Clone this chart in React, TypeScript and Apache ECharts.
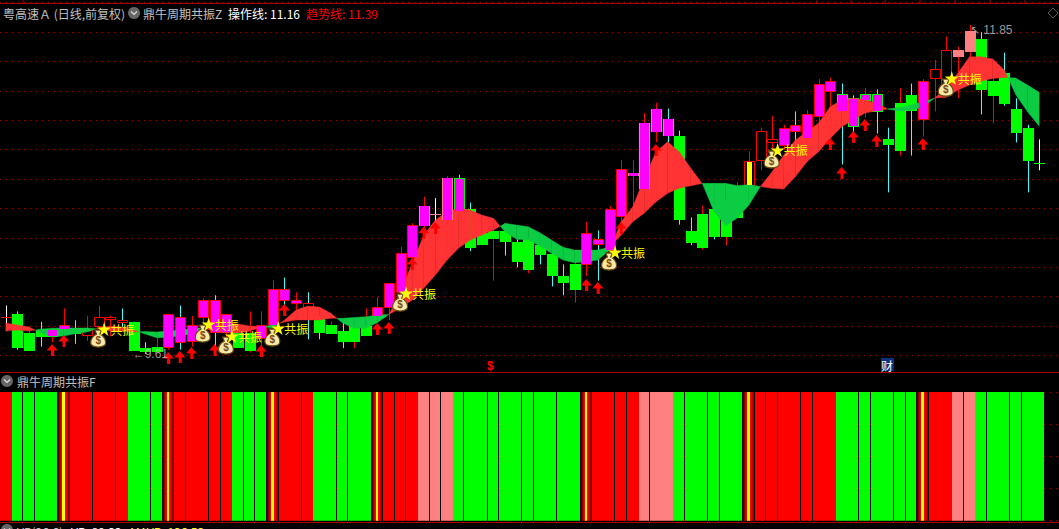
import React, { useEffect, useRef } from "react";
import * as echarts from "echarts";

const opens = [9.86,9.88,9.75,9.77,9.78,9.78,9.78,9.74,9.80,9.85,9.83,9.83,9.65,9.66,9.66,9.69,9.70,9.86,9.76,9.76,9.75,9.75,9.72,9.81,9.98,9.96,9.93,9.86,9.81,9.77,9.80,9.80,9.87,9.93,10.03,10.27,10.49,10.56,10.53,10.81,10.60,10.43,10.45,10.45,10.37,10.39,10.35,10.29,10.14,10.22,10.22,10.36,10.32,10.55,10.83,10.74,11.13,11.10,11.09,10.45,10.56,10.60,10.66,10.73,10.76,10.93,11.05,11.03,11.13,11.08,11.23,11.40,11.38,11.35,11.38,11.38,11.07,11.32,11.37,11.21,11.49,11.44,11.64,11.67,11.75,11.47,11.52,11.28,11.15,10.91];
const closes = [9.86,9.66,9.64,9.73,9.73,9.81,9.75,9.78,9.86,9.86,9.84,9.64,9.63,9.63,9.88,9.86,9.81,9.98,9.98,9.88,9.66,9.64,9.81,10.05,10.05,9.98,9.96,9.76,9.75,9.70,9.70,9.74,9.93,10.09,10.30,10.49,10.62,10.56,10.81,10.58,10.34,10.36,10.40,10.38,10.24,10.19,10.29,10.15,10.10,10.05,10.43,10.39,10.60,10.87,10.84,11.18,11.28,11.21,10.53,10.37,10.34,10.41,10.41,10.54,10.92,11.13,11.07,11.15,11.17,11.24,11.45,11.47,11.26,11.16,11.34,11.26,11.04,11.00,11.27,11.47,11.55,11.68,11.68,11.81,11.41,11.37,11.32,11.12,10.93,10.91];
const lows = [9.77,9.64,9.64,9.66,9.69,9.67,9.68,9.70,9.73,9.73,9.79,9.63,9.61,9.62,9.64,9.64,9.66,9.80,9.64,9.62,9.66,9.62,9.65,9.76,9.94,9.86,9.71,9.71,9.75,9.65,9.65,9.74,9.84,9.84,9.98,10.24,10.45,10.50,10.51,10.56,10.31,10.35,10.11,10.28,10.20,10.16,10.22,10.07,10.01,9.96,10.14,10.11,10.28,10.51,10.61,10.73,11.05,11.05,10.49,10.35,10.32,10.39,10.35,10.54,10.73,10.86,11.00,11.00,11.00,11.05,11.17,11.10,10.90,11.12,11.22,11.11,10.71,10.96,10.96,11.09,11.26,11.41,11.35,11.63,11.24,11.18,11.30,11.05,10.71,10.86];
const highs = [9.94,9.90,9.77,9.83,9.79,9.92,9.84,9.87,9.94,9.87,9.92,9.83,9.69,9.73,9.88,9.94,9.87,9.99,10.01,9.88,9.81,9.90,9.90,10.11,10.13,10.03,10.03,9.87,9.83,9.83,9.80,9.92,10.00,10.09,10.34,10.50,10.68,10.67,10.82,10.83,10.64,10.49,10.47,10.49,10.39,10.40,10.35,10.30,10.22,10.24,10.51,10.45,10.62,10.93,10.93,11.25,11.32,11.28,11.13,10.54,10.62,10.62,10.69,10.78,10.99,11.15,11.23,11.17,11.26,11.27,11.48,11.49,11.45,11.37,11.42,11.41,11.15,11.42,11.45,11.48,11.61,11.77,11.70,11.85,11.80,11.51,11.66,11.35,11.17,11.07];
const wickCodes = ["w","c","r","c","r","r","c","r","r","r","c","c","c","r","r","c","r","r","c","r","c","r","r","r","c","r","c","c","r","c","r","r","r","r","r","r","r","w","r","c","c","c","r","c","c","r","c","c","c","r","r","c","r","r","r","r","r","c","c","c","r","c","r","r","r","r","r","r","c","r","r","r","c","c","r","c","c","r","c","r","r","r","r","r","c","r","c","c","c","w"];
const overlayCodes = ["","","","","m","m","","","","","","","","","m","m","m","m","m","m","","","m","m","m","m","","","","","","","m","m","m","m","pm","p","pm","m","","","","","","","","","","","m","m","m","m","pm","pm","pm","pm","","","","","","","y","","","m","m","m","m","m","m","m","m","m","","","","m","","","p","p","","","","","","g"];

const operationLine = [9.821,9.807,9.794,9.753,9.729,9.732,9.749,9.760,9.787,9.800,9.794,9.773,9.746,9.721,9.725,9.732,9.746,9.783,9.807,9.821,9.814,9.800,9.797,9.787,9.841,9.909,9.936,9.930,9.887,9.821,9.785,9.785,9.823,9.880,10.034,10.229,10.419,10.521,10.578,10.603,10.589,10.555,10.533,10.442,10.390,10.385,10.345,10.295,10.249,10.231,10.238,10.249,10.317,10.510,10.612,10.807,10.986,11.054,10.986,10.873,10.768,10.578,10.481,10.535,10.623,10.750,10.850,10.964,11.066,11.122,11.181,11.292,11.338,11.351,11.338,11.317,11.275,11.263,11.270,11.290,11.352,11.419,11.521,11.632,11.632,11.617,11.542,11.372,11.258,11.16];
const trendLine = [9.766,9.773,9.766,9.780,9.785,9.787,9.787,9.787,9.780,9.766,9.766,9.760,9.763,9.760,9.766,9.773,9.780,9.790,9.760,9.753,9.753,9.766,9.794,9.807,9.828,9.841,9.841,9.841,9.853,9.853,9.859,9.864,9.875,9.879,9.923,9.977,10.059,10.147,10.249,10.331,10.385,10.419,10.453,10.499,10.487,10.476,10.435,10.385,10.336,10.317,10.317,10.317,10.338,10.419,10.510,10.569,10.646,10.703,10.737,10.755,10.771,10.771,10.771,10.755,10.764,10.749,10.737,10.732,10.816,10.918,10.986,11.077,11.156,11.202,11.249,11.265,11.278,11.285,11.304,11.326,11.351,11.356,11.406,11.440,11.467,11.485,11.492,11.487,11.440,11.39];

const arrowIndex = [4,5,14,15,16,18,22,24,32,33,35,36,37,50,51,53,56,71,72,73,74,75,79];
const arrowPrice = [9.678,9.739,9.623,9.630,9.657,9.678,9.671,9.950,9.821,9.828,10.263,10.476,10.508,10.120,10.100,10.508,11.038,11.079,10.882,11.127,11.208,11.100,11.079];

const signalIndex = [8,17,19,23,34,52,66,81];
const signalPrice = [9.780,9.814,9.732,9.787,10.025,10.304,10.998,11.487];
const signalLabel = "共振";

const cellKinds = ["R","G","G","G","S","R","R","R","G","G","S","R","R","R","R","G","G","G","S","R","R","G","G","G","S","R","R","R","P","P","P","G","G","G","G","G","G","G","S","R","R","R","P","P","G","G","G","G","S","R","R","R","R","R","G","G","G","G","G","S","R","P","P","G","G","G","G"];
const cellSpans = [1,1,1,2,1,2,2,1,2,1,1,1,2,1,1,1,1,1,1,2,1,2,1,2,1,1,1,1,1,1,1,1,2,1,2,1,2,2,1,2,1,1,1,2,1,2,1,2,1,1,1,2,1,2,2,1,2,1,1,1,2,1,1,1,2,1,2];
const lowPrice = 9.61;
const highPrice = 11.85;
const operationValue = "11.16";
const trendValue = "11.39";
const vrValue = "89.33";
const mavrValue = "136.53";

const TOTAL_UNITS = 1059 / 11.611;
const RED = "#ff0000";
const CYAN = "#40ffff";
const GREEN = "#00ff00";
const MAGENTA = "#ff00ff";
const PINK = "#ff8080";
const LINE = "#aa0000";
const FONT = '"Noto Sans CJK SC", sans-serif';
const LATIN = '"Liberation Sans", sans-serif';
const ARROW = "path://M5 0 L10.5 6.5 L7 6.5 L7 12 L4 12 L4 6.5 L0 6.5Z";
const STAR = "path://M50 0 L61 35 L98 35 L68 57 L79 91 L50 70 L21 91 L32 57 L2 35 L39 35Z";
const BAG = "path://M5 0 L13 0 L11 4.5 C15 6.5 18 10 18 14 C18 18 14 19 9 19 C4 19 0 18 0 14 C0 10 3 6.5 7 4.5Z";

const wickColor = (c: string) => (c === "c" ? CYAN : c === "w" ? "#ffffff" : RED);

function renderBase(params: any, api: any) {
  const i = params.dataIndex;
  const pos = i + 0.5;
  const x = Math.round(api.coord([pos, 10])[0]);
  const o = api.coord([pos, opens[i]])[1];
  const c = api.coord([pos, closes[i]])[1];
  const l = api.coord([pos, lows[i]])[1];
  const h = api.coord([pos, highs[i]])[1];
  const up = closes[i] >= opens[i];
  const top = Math.round(Math.min(o, c));
  const bot = Math.round(Math.max(o, c));
  const children: any[] = [
    { type: "line", shape: { x1: x + 0.5, y1: h, x2: x + 0.5, y2: l }, style: { stroke: wickColor(wickCodes[i]), lineWidth: 1 } },
  ];
  if (bot - top < 1) {
    children.push({ type: "rect", shape: { x: x - 5, y: top, width: 11, height: 1 }, style: { fill: RED } });
  } else if (up) {
    children.push({ type: "rect", shape: { x: x - 4.5, y: top + 0.5, width: 10, height: bot - top }, style: { fill: "#000", stroke: RED, lineWidth: 1 } });
  } else {
    children.push({ type: "rect", shape: { x: x - 5, y: top, width: 11, height: bot - top + 1 }, style: { fill: GREEN } });
  }
  return { type: "group", children };
}

function renderOverlay(params: any, api: any) {
  const i = params.dataIndex;
  const code = overlayCodes[i];
  if (!code) return null;
  const pos = i + 0.5;
  const x = Math.round(api.coord([pos, 10])[0]);
  const o = api.coord([pos, opens[i]])[1];
  const c = api.coord([pos, closes[i]])[1];
  const top = Math.round(Math.min(o, c));
  const h = Math.max(Math.round(Math.max(o, c)) - top + 1, 1);
  const children: any[] = [];
  if (code === "p" || code === "pm") children.push({ type: "rect", shape: { x: x - 5, y: top, width: 11, height: h }, style: { fill: PINK } });
  if (code === "g") children.push({ type: "rect", shape: { x: x - 5, y: top, width: 11, height: h }, style: { fill: GREEN } });
  if (code === "m" || code === "pm") {
    const inset = code === "m" ? 1 : 0;
    children.push({ type: "rect", shape: { x: x - 4, y: top + inset, width: 9, height: Math.max(h - inset * 2, 1) }, style: { fill: MAGENTA } });
  }
  if (code === "y") children.push({ type: "rect", shape: { x: x - 2, y: top + 1, width: 5, height: h - 2 }, style: { fill: "#ffff00" } });
  return { type: "group", children };
}

function renderBand(params: any, api: any) {
  const i = params.dataIndex;
  if (i >= operationLine.length - 1) return null;
  const a0 = api.coord([i + 0.5, operationLine[i]]);
  const b0 = api.coord([i + 0.5, trendLine[i]]);
  const a1 = api.coord([i + 1.5, operationLine[i + 1]]);
  const b1 = api.coord([i + 1.5, trendLine[i + 1]]);
  const d0 = operationLine[i] - trendLine[i];
  const d1 = operationLine[i + 1] - trendLine[i + 1];
  const red = "#ff3333";
  const green = "#0ccc44";
  const poly = (pts: number[][], fill: string) => ({ type: "polygon", shape: { points: pts }, style: { fill, stroke: fill, lineWidth: 0.4 } });
  if (d0 * d1 >= 0) return poly([a0, a1, b1, b0], d0 + d1 > 0 ? red : green);
  const t = d0 / (d0 - d1);
  const cross = [a0[0] + (a1[0] - a0[0]) * t, a0[1] + (a1[1] - a0[1]) * t];
  return { type: "group", children: [poly([a0, cross, b0], d0 > 0 ? red : green), poly([cross, a1, b1], d1 > 0 ? red : green)] };
}

function cellData() {
  let start = 0;
  return cellKinds.map((k, i) => {
    const row = [start, start + cellSpans[i]];
    start += cellSpans[i];
    return row;
  });
}

function renderCell(params: any, api: any) {
  const kind = cellKinds[params.dataIndex];
  const next = cellKinds[params.dataIndex + 1];
  const p0 = api.coord([api.value(0), 4]);
  const p1 = api.coord([api.value(1), 0]);
  const noGap = (kind === "R" && (next === "G" || next === "P")) || (kind === "P" && next === "G");
  const left = Math.round(p0[0]);
  const right = Math.round(p1[0]);
  const width = right - left - (noGap && params.dataIndex !== 21 ? 0 : 1);
  let fill: any = kind === "G" ? GREEN : kind === "P" ? PINK : RED;
  if (kind === "S") {
    fill = new echarts.graphic.LinearGradient(0, 0, 1, 0, [
      { offset: 0, color: "#300000" },
      { offset: 0.22, color: "#c00000" },
      { offset: 0.36, color: "#ff0000" },
      { offset: 0.37, color: "#ffff00" },
      { offset: 0.63, color: "#ffff00" },
      { offset: 0.64, color: "#ff0000" },
      { offset: 0.8, color: "#e00000" },
      { offset: 1, color: "#800000" },
    ]);
  }
  return { type: "rect", shape: { x: left, y: p0[1], width, height: p1[1] - p0[1] }, style: { fill } };
}

const chevronIcon = (x: number, y: number) => [
  { type: "circle", shape: { cx: x, cy: y, r: 6 }, style: { fill: "#666666" }, z: 20 },
  { type: "polyline", shape: { points: [[x - 3, y - 1.5], [x, y + 1.5], [x + 3, y - 1.5]] }, style: { stroke: "#e0e0e0", fill: "none", lineWidth: 1.2 }, z: 21 },
];
const label = (x: number, y: number, text: string, fill: string, size = 12, family = FONT, extra: any = {}) => ({
  type: "text", x, y, z: 22,
  style: { text, fill, font: `${size}px ${family}`, textVerticalAlign: "middle", verticalAlign: "middle", ...extra },
});
const hline = (y: number) => ({ type: "line", z: 15, shape: { x1: 0, y1: y, x2: 1059, y2: y }, style: { stroke: LINE, lineWidth: 1 } });
const tick = (x: number) => ({ type: "line", z: 15, shape: { x1: x, y1: 0, x2: x, y2: 3 }, style: { stroke: LINE, lineWidth: 1 } });

export default function App() {
  const ref = useRef<HTMLDivElement>(null);
  useEffect(() => {
    document.body.style.margin = "0";
    document.body.style.background = "#000";
    const chart = echarts.init(ref.current!, undefined, { renderer: "svg" });
    const hidden = { show: false };
    const dotted = { show: true, lineStyle: { color: "#a00000", type: [1, 5] as any, width: 1 } };
    const clear = { color: "rgba(0,0,0,0)" };
    chart.setOption({
      animation: false,
      backgroundColor: "#000",
      grid: [
        { left: 0, width: 1059, top: 2.7, height: 352.8 },
        { left: 0, width: 1059, top: 392, height: 128.7 },
      ],
      xAxis: [
        { type: "value", gridIndex: 0, min: 0, max: TOTAL_UNITS, show: false },
        { type: "value", gridIndex: 1, min: 0, max: TOTAL_UNITS, show: false },
      ],
      yAxis: [
        { type: "value", gridIndex: 0, min: 9.6, max: 12, interval: 0.2, axisLine: hidden, axisTick: hidden, axisLabel: hidden, splitLine: dotted },
        { type: "value", gridIndex: 1, min: 0, max: 4, interval: 1, axisLine: hidden, axisTick: hidden, axisLabel: hidden, splitLine: dotted },
      ],
      series: [
        { type: "custom", name: "K", z: 1, clip: false, silent: true, renderItem: renderBase, data: opens.map((_, i) => [i + 0.5, opens[i], closes[i], lows[i], highs[i]]) },
        { type: "custom", name: "band", z: 2, clip: false, silent: true, renderItem: renderBand, data: operationLine.map((v, i) => [i + 0.5, v, trendLine[i]]) },
        { type: "custom", name: "overlay", z: 3, clip: false, silent: true, renderItem: renderOverlay, data: opens.map((_, i) => [i + 0.5, opens[i], closes[i]]) },
        {
          type: "scatter", name: "arrows", z: 4, silent: true, symbol: ARROW, symbolSize: [11, 12], symbolOffset: [0, 6],
          itemStyle: { color: RED, opacity: 1 }, data: arrowIndex.map((v, i) => [v + 0.5, arrowPrice[i]]),
        },
        {
          type: "scatter", name: "bags", z: 5, silent: true, symbol: BAG, symbolSize: [15, 17], symbolOffset: [-0.5, 9.5],
          itemStyle: { color: "#f8e9a6", borderColor: "#6a4a12", borderWidth: 1.2, opacity: 1 },
          label: { show: true, formatter: "$", position: "inside", offset: [0, 2], color: "#7a4a10", fontSize: 10, fontWeight: "bold", fontFamily: LATIN },
          data: signalIndex.map((v, i) => [v + 0.5, signalPrice[i]]),
        },
        {
          type: "scatter", name: "stars", z: 6, silent: true, symbol: STAR, symbolSize: 14, symbolOffset: [5.5, 0],
          itemStyle: { color: "#ffff00", opacity: 1 },
          label: { show: true, formatter: signalLabel, position: "right", distance: -1, color: "#ffff00", fontSize: 12, fontFamily: FONT },
          data: signalIndex.map((v, i) => [v + 0.5, signalPrice[i]]),
        },
        {
          type: "scatter", name: "lowLabel", z: 7, silent: true, symbolSize: 1, itemStyle: clear,
          label: { show: true, formatter: `←${lowPrice.toFixed(2)}`, position: "right", distance: 0, offset: [-13, 0], color: "#c0c0c0", fontSize: 12, fontFamily: LATIN },
          data: [[12.5, lowPrice]],
        },
        {
          type: "scatter", name: "highLabel", z: 7, silent: true, symbolSize: 1, itemStyle: clear,
          label: { show: true, formatter: `↖ ${highPrice.toFixed(2)}`, position: "right", distance: 0, offset: [0, 5], color: "#c0c0c0", fontSize: 12, fontFamily: LATIN },
          data: [[83.5, highPrice]],
        },
        { type: "custom", name: "cells", xAxisIndex: 1, yAxisIndex: 1, z: 1, silent: true, clip: false, renderItem: renderCell, data: cellData() },
      ],
      graphic: {
        elements: [
          hline(3.5), hline(372.5), hline(522.5),
          ...[23, 817, 851, 885, 920, 955, 990, 1025].map(tick),
          label(3, 13, "粤高速Ａ (日线,前复权)", "#c0c0c0"),
          ...chevronIcon(134, 13),
          label(143, 13, "鼎牛周期共振Z", "#c0c0c0"),
          label(228, 13, `操作线: ${operationValue}`, "#ffffff"),
          label(306, 13, `趋势线: ${trendValue}`, RED),
          { type: "polygon", z: 20, shape: { points: [[1053, 8], [1058, 13], [1053, 18], [1048, 13]] }, style: { fill: "none", stroke: "#555555", lineWidth: 1 } },
          ...chevronIcon(7, 381),
          label(17, 381, "鼎牛周期共振F", "#c0c0c0"),
          label(487, 366, "$", RED, 12, LATIN, { fontWeight: "bold" }),
          { type: "rect", z: 21, shape: { x: 881, y: 358, width: 13, height: 13 }, style: { fill: "#0a3080" } },
          label(881, 365, "财", "#ffffff"),
          ...chevronIcon(7, 530),
          label(17, 531, "VR(26,6)", "#c0c0c0"),
          label(71, 531, `VR: ${vrValue}`, "#ffffff"),
          label(130, 531, `MAVR: ${mavrValue}`, "#ffff00"),
        ],
      },
    });
    return () => chart.dispose();
  }, []);
  return <div ref={ref} style={{ width: 1059, height: 529, overflow: "hidden" }} />;
}
